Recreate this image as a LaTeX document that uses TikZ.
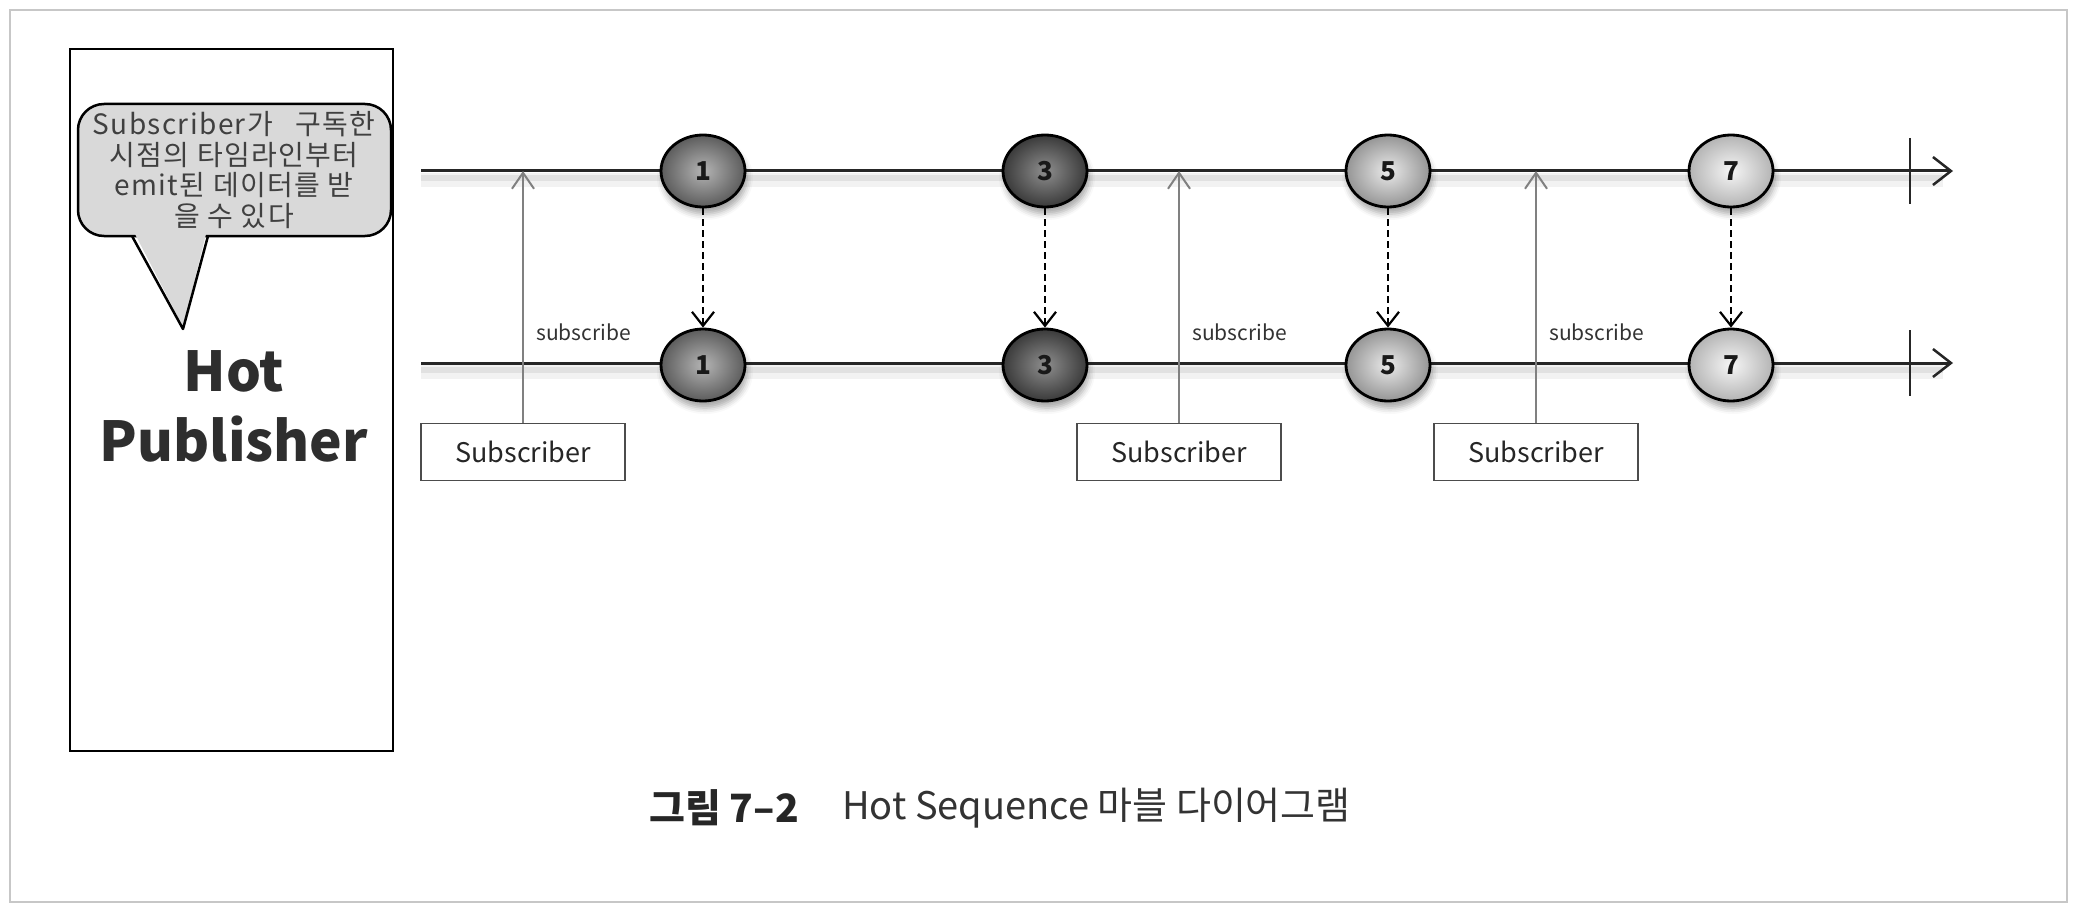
\documentclass[tikz,border=0pt]{standalone}
\usepackage{fontspec}
\setmainfont{Noto Sans CJK KR}
\usetikzlibrary{shapes.geometric,arrows.meta,shadows.blur}
\definecolor{m1in}{HTML}{B4B4B4}
\definecolor{m1out}{HTML}{5C5C5C}
\definecolor{m3in}{HTML}{8E8E8E}
\definecolor{m3out}{HTML}{3A3A3A}
\definecolor{m5in}{HTML}{EAEAEA}
\definecolor{m5out}{HTML}{959595}
\definecolor{m7in}{HTML}{F6F6F6}
\definecolor{m7out}{HTML}{B4B4B4}
\definecolor{calloutfill}{HTML}{D9D9D9}
\definecolor{subgray}{HTML}{808080}
\definecolor{captext}{HTML}{333333}
\begin{document}
\begin{tikzpicture}[x=1pt,y=-1pt,
  marble/.style={ellipse,draw=black,line width=2.8pt,minimum width=84pt,minimum height=72pt,inner sep=0pt,
    font=\fontsize{26}{26}\selectfont\bfseries,text=black!90,
    blur shadow={shadow xshift=2pt,shadow yshift=-7pt,shadow blur radius=6pt,shadow opacity=35}},
  mone/.style={marble,inner color=m1in,outer color=m1out},
  mthree/.style={marble,inner color=m3in,outer color=m3out},
  mfive/.style={marble,inner color=m5in,outer color=m5out},
  mseven/.style={marble,inner color=m7in,outer color=m7out},
  timeline/.style={draw=black!85,line width=3pt,-{Straight Barb[length=18pt,width=28pt,line width=2.5pt]}},
  tlshadowA/.style={draw=black,line width=14pt,opacity=0.05},
  tlshadowB/.style={draw=black,line width=6pt,opacity=0.07},
  endbar/.style={draw=black!85,line width=2.5pt},
  emitarrow/.style={draw=black,line width=2.5pt,dash pattern=on 7pt off 4pt,-{Straight Barb[length=14pt,width=22pt,line width=2.2pt]}},
  subarrow/.style={draw=subgray,line width=2pt,-{Straight Barb[length=16pt,width=22pt,line width=2pt]}},
  subbox/.style={draw=black!70,line width=1.8pt,minimum width=204pt,minimum height=57pt,inner sep=0pt,
    font=\fontsize{27}{27}\selectfont,text=black!85},
  sublabel/.style={anchor=west,font=\fontsize{21}{21}\selectfont,text=black!80,inner sep=0pt}
]
\useasboundingbox (0,0) rectangle (2076,912);
% outer frame
\draw[draw=black!22,line width=2.5pt] (10,10) rectangle (2067,902);
% publisher box
\node[draw=black,line width=2.5pt,minimum width=323pt,minimum height=702pt,inner sep=0pt] (pub) at (231.5,400) {};
% callout
\draw[fill=calloutfill,line width=2.5pt,rounded corners=26pt] (78,104) rectangle (391,236);
\fill[calloutfill] (133,230) -- (183,327) -- (207,230) -- cycle;
\draw[line width=2.5pt,line join=round] (132,236) -- (183,329) -- (208,236);
\node[align=center,font=\fontsize{28}{30.5}\selectfont\addfontfeature{LetterSpace=5},text=black!75,inner sep=0pt] (callout) at (234,170)
  {Subscriber가\hspace{0.8em}구독한\\시점의 타임라인부터\\emit된 데이터를 받\\을 수 있다};
\node[align=center,font=\fontsize{55}{70}\selectfont\bfseries,text=black!82,inner sep=0pt] (hot) at (234,406)
  {Hot\\Publisher};
% timelines
\coordinate (ts) at (421,171);
\coordinate (te) at (1953,171);
\coordinate (bs) at (421,363);
\coordinate (be) at (1953,363);
\draw[tlshadowA] ([yshift=-9pt]ts) -- ([yshift=-9pt,xshift=-10pt]te);
\draw[tlshadowB] ([yshift=-7pt]ts) -- ([yshift=-7pt,xshift=-10pt]te);
\draw[tlshadowA] ([yshift=-9pt]bs) -- ([yshift=-9pt,xshift=-10pt]be);
\draw[tlshadowB] ([yshift=-7pt]bs) -- ([yshift=-7pt,xshift=-10pt]be);
\draw[timeline] (ts) -- (te);
\draw[timeline] (bs) -- (be);
\coordinate (tbar1) at (1910,138);
\coordinate (tbar2) at (1910,204);
\coordinate (bbar1) at (1910,330);
\coordinate (bbar2) at (1910,396);
\draw[endbar] (tbar1) -- (tbar2);
\draw[endbar] (bbar1) -- (bbar2);
% subscriber boxes and arrows
\node[subbox] (s1) at (523,452) {Subscriber};
\node[subbox] (s2) at (1179,452) {Subscriber};
\node[subbox] (s3) at (1536,452) {Subscriber};
\draw[subarrow] (s1.north) -- (s1.north |- ts);
\draw[subarrow] (s2.north) -- (s2.north |- ts);
\draw[subarrow] (s3.north) -- (s3.north |- ts);
\node[sublabel] (l1) at (536,332) {subscribe};
\node[sublabel] (l2) at (1192,332) {subscribe};
\node[sublabel] (l3) at (1549,332) {subscribe};
% marbles
\node[mone] (t1) at (703,171) {1};
\node[mthree] (t3) at (1045,171) {3};
\node[mfive] (t5) at (1388,171) {5};
\node[mseven] (t7) at (1731,171) {7};
\node[mone] (b1) at (703,365) {1};
\node[mthree] (b3) at (1045,365) {3};
\node[mfive] (b5) at (1388,365) {5};
\node[mseven] (b7) at (1731,365) {7};
\draw[emitarrow] (t1) -- (b1);
\draw[emitarrow] (t3) -- (b3);
\draw[emitarrow] (t5) -- (b5);
\draw[emitarrow] (t7) -- (b7);
% caption
\node[anchor=west,font=\fontsize{39}{39}\selectfont\bfseries,text=black!85,inner sep=0pt] (cap1) at (649,808) {그림 7–2};
\node[anchor=west,font=\fontsize{38}{38}\selectfont,text=captext,inner sep=0pt] (cap2) at (842,808) {Hot Sequence 마블 다이어그램};
\end{tikzpicture}
\end{document}
